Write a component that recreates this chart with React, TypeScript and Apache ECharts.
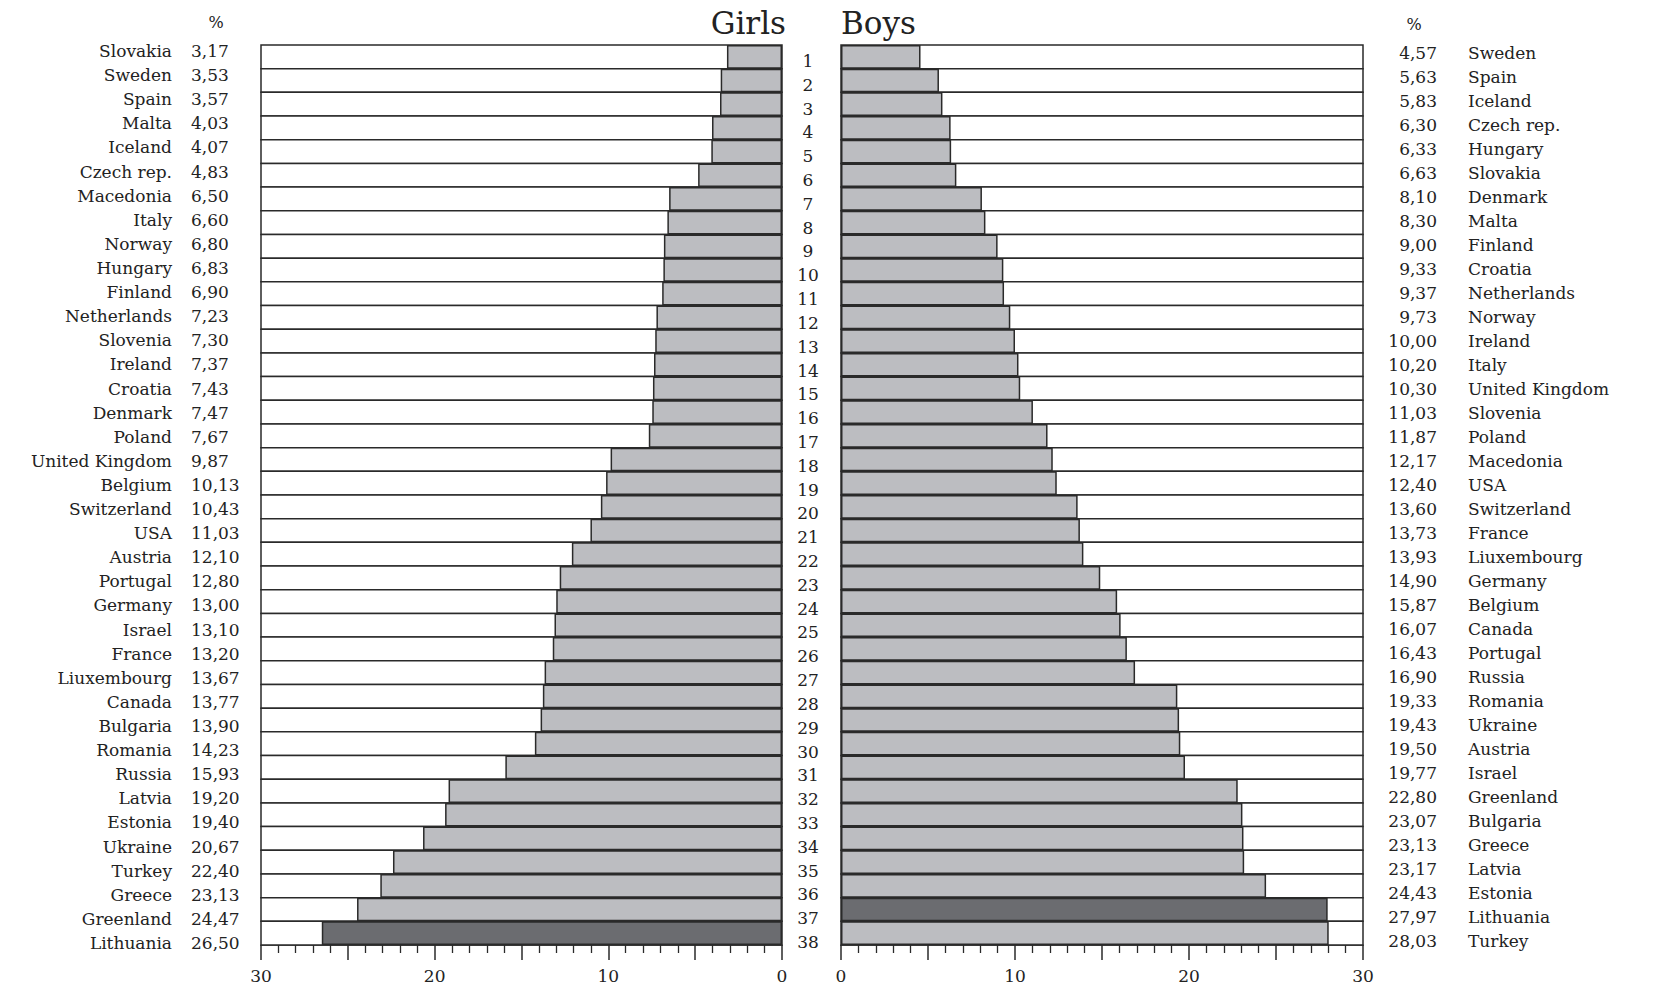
import React, { useEffect, useRef } from "react";
import * as echarts from "echarts";

const girlsCountries = [
  "Slovakia", "Sweden", "Spain", "Malta", "Iceland", "Czech rep.", "Macedonia", "Italy", "Norway", "Hungary",
  "Finland", "Netherlands", "Slovenia", "Ireland", "Croatia", "Denmark", "Poland", "United Kingdom", "Belgium", "Switzerland",
  "USA", "Austria", "Portugal", "Germany", "Israel", "France", "Liuxembourg", "Canada", "Bulgaria", "Romania",
  "Russia", "Latvia", "Estonia", "Ukraine", "Turkey", "Greece", "Greenland", "Lithuania",
];
const girlsValues = [
  3.17, 3.53, 3.57, 4.03, 4.07, 4.83, 6.5, 6.6, 6.8, 6.83,
  6.9, 7.23, 7.3, 7.37, 7.43, 7.47, 7.67, 9.87, 10.13, 10.43,
  11.03, 12.1, 12.8, 13.0, 13.1, 13.2, 13.67, 13.77, 13.9, 14.23,
  15.93, 19.2, 19.4, 20.67, 22.4, 23.13, 24.47, 26.5,
];
const boysCountries = [
  "Sweden", "Spain", "Iceland", "Czech rep.", "Hungary", "Slovakia", "Denmark", "Malta", "Finland", "Croatia",
  "Netherlands", "Norway", "Ireland", "Italy", "United Kingdom", "Slovenia", "Poland", "Macedonia", "USA", "Switzerland",
  "France", "Liuxembourg", "Germany", "Belgium", "Canada", "Portugal", "Russia", "Romania", "Ukraine", "Austria",
  "Israel", "Greenland", "Bulgaria", "Greece", "Latvia", "Estonia", "Lithuania", "Turkey",
];
const boysValues = [
  4.57, 5.63, 5.83, 6.3, 6.33, 6.63, 8.1, 8.3, 9.0, 9.33,
  9.37, 9.73, 10.0, 10.2, 10.3, 11.03, 11.87, 12.17, 12.4, 13.6,
  13.73, 13.93, 14.9, 15.87, 16.07, 16.43, 16.9, 19.33, 19.43, 19.5,
  19.77, 22.8, 23.07, 23.13, 23.17, 24.43, 27.97, 28.03,
];
const ranks = [
  "1", "2", "3", "4", "5", "6", "7", "8", "9", "10", "11", "12", "13", "14", "15", "16", "17", "18", "19",
  "20", "21", "22", "23", "24", "25", "26", "27", "28", "29", "30", "31", "32", "33", "34", "35", "36", "37", "38",
];
const highlight = "Lithuania";

const FONT = "'DejaVu Serif', 'Liberation Serif', serif";
const TEXT = "#222";
const LINE = "#2a2a2a";
const LIGHT = "#bcbdc1";
const DARK = "#6b6c70";

const fmt = (v: number) => v.toFixed(2).replace(".", ",");

export default function App() {
  const ref = useRef<HTMLDivElement>(null);
  useEffect(() => {
    if (!ref.current) return;
    const chart = echarts.init(ref.current, null, { renderer: "svg" });

    const xAxisBase = (gridIndex: number, inverse: boolean) => ({
      type: "value",
      gridIndex,
      inverse,
      min: 0,
      max: 30,
      interval: 5,
      splitLine: { show: false },
      axisLine: { show: true, lineStyle: { color: LINE, width: 1.5 } },
      axisTick: { show: true, length: 15, lineStyle: { color: LINE, width: 1.5 } },
      minorTick: { show: true, splitNumber: 5, length: 8, lineStyle: { color: LINE, width: 1.3 } },
      minorSplitLine: { show: false },
      axisLabel: {
        margin: 22,
        fontFamily: FONT,
        fontSize: 17,
        color: TEXT,
        formatter: (v: number) => (v % 10 === 0 ? String(v) : ""),
      },
    });
    const hiddenX = (gridIndex: number) => ({ type: "value", gridIndex, show: false, min: 0, max: 30 });

    const catAxis = (gridIndex: number, data: string[], position: string, label: any) => ({
      type: "category",
      gridIndex,
      data,
      inverse: true,
      position,
      axisLine: { show: false },
      axisTick: { show: false },
      splitLine: { show: false },
      axisLabel: { fontFamily: FONT, fontSize: 17, color: TEXT, interval: 0, ...label },
    });

    const barSeries = (idx: number, countries: string[], values: number[]) => ({
      type: "bar",
      xAxisIndex: idx,
      yAxisIndex: idx,
      barWidth: "100%",
      showBackground: true,
      backgroundStyle: { color: "#ffffff", borderColor: LINE, borderWidth: 1.5, opacity: 1 },
      itemStyle: { borderColor: LINE, borderWidth: 1.5 },
      data: values.map((v, i) => ({
        value: v,
        itemStyle: { color: countries[i] === highlight ? DARK : LIGHT },
      })),
      silent: true,
    });

    const option: any = {
      animation: false,
      backgroundColor: "#ffffff",
      grid: [
        { left: 261, right: 1658 - 782, top: 45, height: 900 },
        { left: 841, right: 1658 - 1363, top: 45, height: 900 },
        { left: 261, right: 1658 - 782, top: 39, height: 916 },
        { left: 841, right: 1658 - 1363, top: 41, height: 912 },
        { left: 261, right: 1658 - 782, top: 49, height: 905 },
      ],
      xAxis: [xAxisBase(0, true), xAxisBase(1, false), hiddenX(2), hiddenX(3), hiddenX(4)],
      yAxis: [
        catAxis(0, girlsCountries, "left", { show: false }),
        catAxis(1, boysCountries, "right", { show: false }),
        catAxis(2, girlsCountries, "left", { margin: 89, align: "right" }),
        catAxis(2, girlsValues.map(fmt), "left", { margin: 70, align: "left" }),
        catAxis(4, ranks, "right", { margin: 26, align: "center" }),
        catAxis(3, boysValues.map(fmt), "right", { margin: 74, align: "right" }),
        catAxis(3, boysCountries, "right", { margin: 105, align: "left" }),
      ],
      series: [barSeries(0, girlsCountries, girlsValues), barSeries(1, boysCountries, boysValues)],
      graphic: [
        {
          type: "text",
          x: 786,
          y: 23,
          style: { text: "Girls", fontFamily: FONT, fontSize: 31, fill: TEXT, align: "right", verticalAlign: "middle" },
        },
        {
          type: "text",
          x: 841,
          y: 23,
          style: { text: "Boys", fontFamily: FONT, fontSize: 31, fill: TEXT, align: "left", verticalAlign: "middle" },
        },
        {
          type: "text",
          x: 216,
          y: 22,
          style: { text: "%", fontFamily: FONT, fontSize: 16, fill: TEXT, align: "center", verticalAlign: "middle" },
        },
        {
          type: "text",
          x: 1414,
          y: 24,
          style: { text: "%", fontFamily: FONT, fontSize: 16, fill: TEXT, align: "center", verticalAlign: "middle" },
        },
      ],
    };
    chart.setOption(option);
    return () => chart.dispose();
  }, []);
  return (
    <div
      ref={ref}
      style={{ position: "absolute", left: 0, top: 0, width: 1658, height: 987, background: "#fff" }}
    />
  );
}
